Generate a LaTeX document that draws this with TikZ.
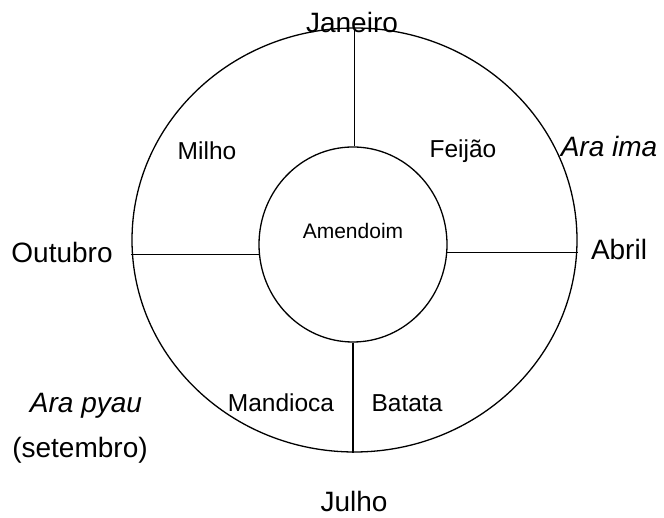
\documentclass[tikz,border=0pt]{standalone}
\usepackage{fontspec}
\setmainfont{Liberation Sans}
\usetikzlibrary{shapes.geometric}
\begin{document}
\begin{tikzpicture}[x=1pt,y=1pt,
  ring/.style={draw,ellipse,line width=1.3pt,inner sep=0pt},
  divider/.style={line width=1.2pt},
  month/.style={anchor=base,inner sep=0pt,font=\fontsize{28}{30}\selectfont},
  crop/.style={anchor=base,inner sep=0pt,font=\fontsize{24.5}{26}\selectfont},
  season/.style={anchor=base,inner sep=0pt,font=\fontsize{28}{30}\selectfont\itshape},
  center/.style={anchor=base,inner sep=0pt,font=\fontsize{21}{23}\selectfont}]
\useasboundingbox (0,0) rectangle (664,518);
\node[ring,minimum width=445pt,minimum height=424pt] (outer) at (354.5,278) {};
\node[ring,minimum width=188pt,minimum height=195pt] (inner) at (353,273.5) {};
\draw[divider] (outer.north) -- (outer.north |- inner.north);
\draw[divider] (inner.south) -- (inner.south |- outer.south);
\draw[divider] (inner.-5.2) -- (inner.-5.2 -| outer.east);
\draw[divider] (inner.-174.2) -- (inner.-174.2 -| outer.west);
\node[center] (amendoim) at (353,279) {Amendoim};
\node[month] (jan) at (352,485) {Janeiro};
\node[month] (jul) at (354,6) {Julho};
\node[month] (out) at (62,255) {Outubro};
\node[month] (abr) at (619,258) {Abril};
\node[crop] (milho) at (207,358) {Milho};
\node[crop] (feijao) at (463,360) {Feijão};
\node[crop] (mandioca) at (281,106) {Mandioca};
\node[crop] (batata) at (407,106) {Batata};
\node[season] (araima) at (609,361) {Ara ima};
\node[season] (arapyau) at (86,105) {Ara pyau};
\node[month] (setembro) at (80,60) {(setembro)};
\end{tikzpicture}
\end{document}
